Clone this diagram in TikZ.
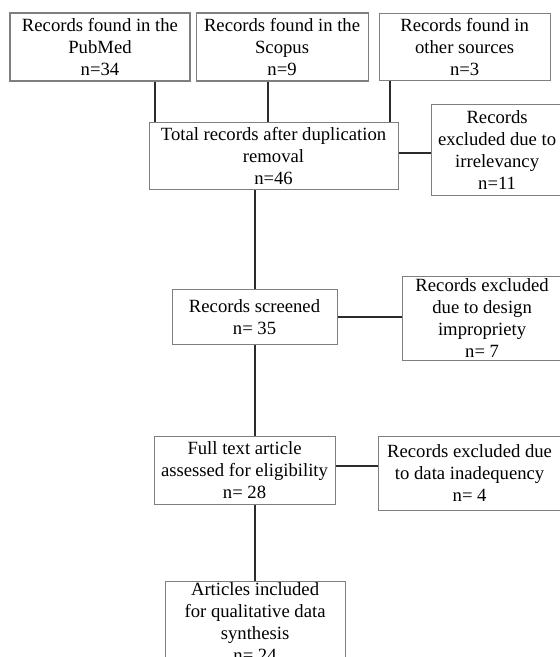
\documentclass[tikz,border=0pt]{standalone}
\usepackage{fontspec}
\setmainfont{Liberation Serif}
\usetikzlibrary{positioning}
\definecolor{boxgray}{HTML}{7F7F7F}
\definecolor{linedark}{HTML}{2B2B2B}
\tikzset{
    %Define style for boxes
    prismanode/.style={
             rectangle,
             draw=boxgray, line width=0.8pt,
             align=center,
             inner xsep=1pt, inner ysep=1pt,
             font=\fontsize{14}{16.5}\selectfont},
    % Define connector style
    prismaline/.style={
            draw=linedark,
            line width=1.5pt}
}
\begin{document}
\begin{tikzpicture}
 \useasboundingbox (0,0) rectangle (420pt,-492.75pt);
 \node[prismanode, minimum width=135pt, minimum height=51pt] (pubmed) at (75pt,-35.25pt) {Records found in the\\PubMed\\n=34};
 \node[prismanode, minimum width=129pt, minimum height=51pt, right=3.75pt of pubmed] (scopus) {Records found in the\\Scopus\\n=9};
 \node[prismanode, minimum width=128.25pt, minimum height=50pt, right=7.5pt of scopus] (other) {Records found in\\other sources\\n=3};
 \node[prismanode, minimum width=186.75pt, minimum height=50.25pt, below=30pt of scopus, xshift=-6.4pt] (total) {Total records after duplication\\removal\\n=46};
 \node[prismanode, minimum width=99pt, minimum height=68.25pt, right=24pt of total, yshift=4.5pt] (irrel) {Records\\excluded due to\\irrelevancy\\n=11};
 \node[prismanode, minimum width=123.75pt, minimum height=41.25pt, below=74.25pt of total, xshift=-14.25pt] (screened) {Records screened\\n= 35};
 \node[prismanode, minimum width=120pt, minimum height=63pt, inner ysep=0pt, right=48pt of screened, yshift=-1.1pt] (design) {Records excluded\\due to design\\impropriety\\n= 7};
 \node[prismanode, minimum width=135.75pt, minimum height=51pt, below=68.25pt of screened, xshift=-7.5pt] (fulltext) {Full text article\\assessed for eligibility\\n= 28};
 \node[prismanode, minimum width=137.25pt, minimum height=55.5pt, right=31.5pt of fulltext, yshift=-2.25pt] (data) {Records excluded due\\to data inadequency\\n= 4};
 \node[prismanode, minimum width=135pt, below=57pt of fulltext, xshift=7.9pt] (articles) {Articles included\\for qualitative data\\synthesis\\n= 24};
 % feet of the source links
 \coordinate (pubfoot) at ([xshift=41.25pt]pubmed.south);
 \coordinate (scofoot) at ([xshift=-10.5pt]scopus.south);
 \coordinate (othfoot) at ([xshift=-55.9pt]other.south);
 \coordinate (totside) at ([yshift=1.9pt]total.east);
 \coordinate (fulside) at ([yshift=3pt]fulltext.east);
 \path (pubfoot) edge[prismaline] (pubfoot |- total.north)
       (scofoot) edge[prismaline] (scofoot |- total.north)
       (othfoot) edge[prismaline] (othfoot |- total.north)
       (totside) edge[prismaline] (totside -| irrel.west)
       (screened.north) edge[prismaline] (screened.north |- total.south)
       (screened.east) edge[prismaline] (screened.east -| design.west)
       (screened.south) edge[prismaline] (screened.south |- fulltext.north)
       (fulside) edge[prismaline] (fulside -| data.west)
       (articles.north) edge[prismaline] (articles.north |- fulltext.south);
\end{tikzpicture}
\end{document}
